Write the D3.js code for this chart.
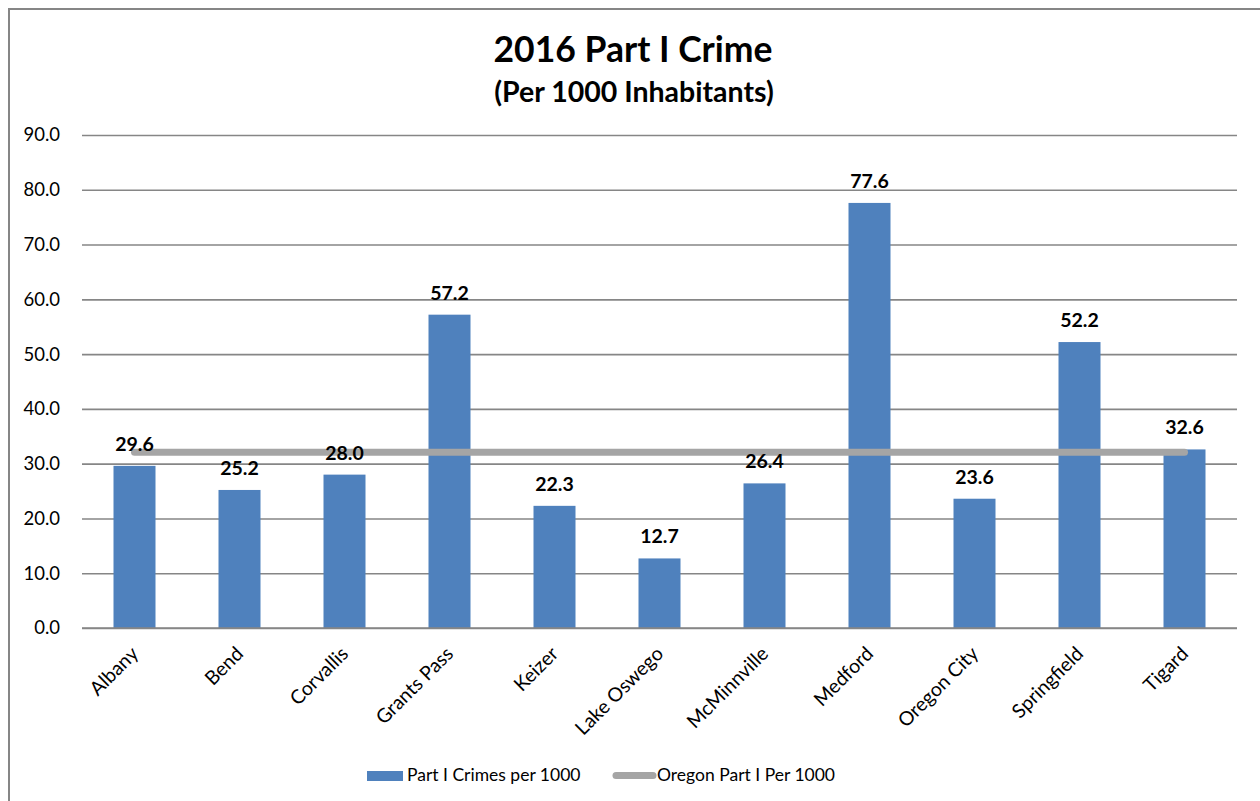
<!DOCTYPE html>
<html>
<head>
<meta charset="utf-8">
<script src="https://cdn.jsdelivr.net/npm/d3@7"></script>
<style>
  html, body { margin: 0; padding: 0; background: #fff; }
  svg { display: block; }
  text { font-family: Lato, "Open Sans", sans-serif; fill: #000; }
</style>
</head>
<body>
<svg id="chart" width="1260" height="801"></svg>
<script>
// Part I crimes per 1000 inhabitants, 2016, by city
const cities = ["Albany", "Bend", "Corvallis", "Grants Pass", "Keizer", "Lake Oswego",
                "McMinnville", "Medford", "Oregon City", "Springfield", "Tigard"];
const crimesPer1000 = [29.6, 25.2, 28.0, 57.2, 22.3, 12.7, 26.4, 77.6, 23.6, 52.2, 32.6];
// Statewide rate, drawn as a flat reference line across all cities
const oregonPer1000 = [32.1, 32.1, 32.1, 32.1, 32.1, 32.1, 32.1, 32.1, 32.1, 32.1, 32.1];
const yTicks = [0, 10, 20, 30, 40, 50, 60, 70, 80, 90];
const titleText = "2016 Part I Crime";
const subtitleText = "(Per 1000 Inhabitants)";
const seriesNames = ["Part I Crimes per 1000", "Oregon Part I Per 1000"];

const svg = d3.select("#chart");
const plot = { left: 82, right: 1237, top: 135, bottom: 628 };

// Outer frame (top and left edges visible)
svg.append("path")
  .attr("d", "M9,801 V9 H1260")
  .attr("fill", "none")
  .attr("stroke", "#868686")
  .attr("stroke-width", 2);

const x = d3.scaleBand().domain(cities).range([plot.left, plot.right]).paddingInner(0.6).paddingOuter(0.3);
const y = d3.scaleLinear().domain([0, 90]).range([plot.bottom, plot.top]);

// Gridlines and y-axis labels
const yAxis = d3.axisLeft(y).tickValues(yTicks).tickFormat(d3.format(".1f"))
  .tickSize(-(plot.right - plot.left)).tickPadding(22);
const gy = svg.append("g").attr("transform", `translate(${plot.left},0)`).call(yAxis);
gy.select(".domain").remove();
gy.selectAll(".tick line").attr("stroke", "#868686").attr("stroke-width", 1.6);
gy.selectAll(".tick text").attr("font-size", 18.5).attr("fill", "#000")
  .style("font-family", "Lato, sans-serif");

// Bars
svg.append("g").selectAll("rect")
  .data(cities)
  .join("rect")
  .attr("x", d => x(d))
  .attr("width", x.bandwidth())
  .attr("y", (d, i) => y(crimesPer1000[i]))
  .attr("height", (d, i) => y(0) - y(crimesPer1000[i]))
  .attr("fill", "#4f81bd");

// Redraw the baseline on top of the bars
svg.append("line")
  .attr("x1", plot.left).attr("x2", plot.right)
  .attr("y1", y(0)).attr("y2", y(0))
  .attr("stroke", "#868686").attr("stroke-width", 1.6);

// Statewide line
const line = d3.line()
  .x((d, i) => x(cities[i]) + x.bandwidth() / 2)
  .y(d => y(d));
svg.append("path")
  .datum(oregonPer1000)
  .attr("d", line)
  .attr("fill", "none")
  .attr("stroke", "#a5a5a5")
  .attr("stroke-width", 7)
  .attr("stroke-linecap", "round");

// Value labels
svg.append("g").selectAll("text")
  .data(cities)
  .join("text")
  .attr("x", d => x(d) + x.bandwidth() / 2)
  .attr("y", (d, i) => y(crimesPer1000[i]) - 15)
  .attr("text-anchor", "middle")
  .attr("font-size", 19.5)
  .attr("font-weight", "bold")
  .text((d, i) => crimesPer1000[i].toFixed(1));

// Category labels, rotated
svg.append("g").selectAll("text")
  .data(cities)
  .join("text")
  .attr("text-anchor", "end")
  .attr("font-size", 19.5)
  .attr("transform", d => `translate(${x(d) + x.bandwidth() / 2 + 5},${plot.bottom + 27}) rotate(-45)`)
  .text(d => d);

// Titles
svg.append("text")
  .attr("x", 633).attr("y", 62)
  .attr("text-anchor", "middle")
  .attr("font-size", 35.5)
  .attr("font-weight", "bold")
  .text(titleText);
svg.append("text")
  .attr("x", 634).attr("y", 102)
  .attr("text-anchor", "middle")
  .attr("font-size", 28.5)
  .attr("font-weight", "bold")
  .text(subtitleText);

// Legend
const lg = svg.append("g");
lg.append("rect").attr("x", 367).attr("y", 771).attr("width", 36).attr("height", 10).attr("fill", "#4f81bd");
lg.append("text").attr("x", 407).attr("y", 781).attr("font-size", 17.5).text(seriesNames[0]);
lg.append("line").attr("x1", 616).attr("x2", 653).attr("y1", 775.5).attr("y2", 775.5)
  .attr("stroke", "#a5a5a5").attr("stroke-width", 7).attr("stroke-linecap", "round");
lg.append("text").attr("x", 657).attr("y", 781).attr("font-size", 17.5).text(seriesNames[1]);
</script>
</body>
</html>
